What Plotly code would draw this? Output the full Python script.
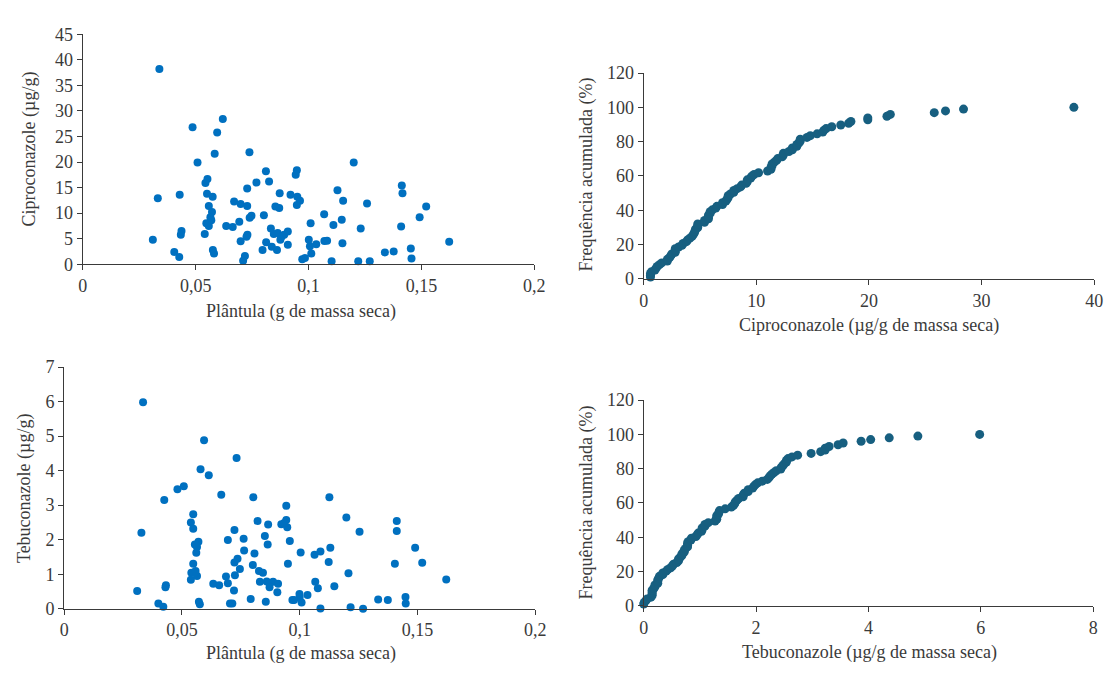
import numpy as np
import plotly.graph_objects as go

# ---- Data ----
plantula_cipro = [0.0339, 0.0332, 0.031, 0.0429, 0.0437, 0.0434, 0.0405, 0.0427, 0.0486, 0.0508,
                  0.062, 0.0595, 0.0584, 0.0738, 0.0552, 0.0543, 0.055, 0.0575, 0.0558, 0.0572,
                  0.0565, 0.0569, 0.0547, 0.0558, 0.054, 0.0576, 0.0581, 0.0635, 0.0664, 0.067,
                  0.0699, 0.0728, 0.0693, 0.0699, 0.0725, 0.0729, 0.0718, 0.071, 0.0728, 0.0739,
                  0.0747, 0.0769, 0.0811, 0.0825, 0.0802, 0.0872, 0.0853, 0.087, 0.0833, 0.0846,
                  0.0863, 0.088, 0.0892, 0.0908, 0.0812, 0.0796, 0.0837, 0.086, 0.0875, 0.0908,
                  0.092, 0.0948, 0.0943, 0.095, 0.0962, 0.0948, 0.1009, 0.1001, 0.1006, 0.1034,
                  0.1012, 0.0972, 0.0984, 0.12, 0.1128, 0.1153, 0.1259, 0.1069, 0.1147, 0.111,
                  0.1231, 0.107, 0.1082, 0.115, 0.1102, 0.122, 0.1271, 0.1338, 0.1377, 0.1413,
                  0.1416, 0.141, 0.1453, 0.1456, 0.1492, 0.1521, 0.1623]
cipro = [38.2, 12.9, 4.8, 13.6, 6.5, 5.75, 2.4, 1.4, 26.8, 19.9,
         28.4, 25.8, 21.6, 21.9, 16.7, 15.9, 13.8, 13.2, 11.4, 10.2,
         9.2, 8.6, 8.0, 7.5, 5.9, 2.8, 2.1, 7.5, 7.3, 12.3,
         11.8, 11.4, 8.3, 4.5, 5.4, 5.75, 1.6, 0.7, 14.8, 9.1,
         9.5, 16.0, 18.2, 16.2, 9.6, 13.9, 11.3, 11.0, 7.0, 5.9,
         6.1, 5.4, 5.75, 6.4, 4.3, 2.8, 3.4, 2.8, 4.8, 3.8,
         13.6, 18.4, 17.5, 13.2, 12.4, 11.6, 8.0, 4.8, 3.5, 3.9,
         2.1, 1.0, 1.2, 19.9, 14.5, 12.4, 11.9, 9.8, 8.7, 7.7,
         7.0, 4.55, 4.6, 4.1, 0.6, 0.6, 0.6, 2.3, 2.5, 15.4,
         13.9, 7.4, 3.1, 1.1, 9.2, 11.3, 4.4]

plantula_tebu = [0.0335, 0.0328, 0.031, 0.04, 0.0421, 0.0425, 0.043, 0.0432, 0.0481, 0.0508,
                 0.0594, 0.0579, 0.0614, 0.0667, 0.0732, 0.0548, 0.0538, 0.0548, 0.057, 0.0555,
                 0.0564, 0.0561, 0.0548, 0.054, 0.0558, 0.0564, 0.0538, 0.0572, 0.0576, 0.0633,
                 0.0658, 0.0687, 0.0695, 0.0721, 0.0704, 0.0714, 0.0723, 0.0695, 0.0762, 0.0764,
                 0.0736, 0.0723, 0.0746, 0.0725, 0.0803, 0.0821, 0.0866, 0.0852, 0.0864, 0.0808,
                 0.0801, 0.0827, 0.0844, 0.0831, 0.086, 0.0887, 0.0908, 0.0872, 0.0905, 0.0792,
                 0.0856, 0.0943, 0.0943, 0.0922, 0.0947, 0.0934, 0.0958, 0.095, 0.1004, 0.1063,
                 0.1066, 0.1077, 0.0999, 0.1, 0.1033, 0.0976, 0.1008, 0.0969, 0.1088, 0.1126,
                 0.1198, 0.1254, 0.1412, 0.1412, 0.1088, 0.113, 0.1123, 0.1207, 0.1147, 0.1216,
                 0.1269, 0.1333, 0.1374, 0.1404, 0.149, 0.152, 0.1449, 0.145, 0.1622]
tebu = [5.98, 2.2, 0.51, 0.15, 0.06, 3.15, 0.62, 0.68, 3.46, 3.55,
        4.88, 4.04, 3.87, 3.3, 4.37, 2.74, 2.5, 2.32, 1.94, 1.86,
        1.79, 1.62, 1.3, 1.04, 1.09, 0.95, 0.84, 0.2, 0.13, 0.72,
        0.68, 0.93, 0.74, 0.53, 0.15, 0.15, 2.28, 1.99, 2.03, 1.69,
        1.45, 1.34, 1.15, 0.97, 3.23, 2.54, 2.44, 2.11, 1.86, 1.6,
        1.27, 1.09, 1.04, 0.78, 0.79, 0.78, 0.72, 0.62, 0.48, 0.28,
        0.2, 2.98, 2.57, 2.45, 2.36, 2.48, 1.96, 1.3, 1.63, 1.56,
        0.78, 0.59, 0.43, 0.34, 0.4, 0.25, 0.18, 0.25, 0.01, 3.23,
        2.64, 2.23, 2.54, 2.25, 1.66, 1.77, 1.35, 1.03, 0.65, 0.04,
        0.0, 0.27, 0.25, 1.3, 1.77, 1.33, 0.34, 0.15, 0.85]

# Cumulative frequency (%) of the measured concentrations
def ecdf(values):
    s = np.sort(np.asarray(values, dtype=float))
    return s, np.arange(1, len(s) + 1) / len(s) * 100.0

cipro_sorted, cipro_cum = ecdf(cipro)
tebu_sorted, tebu_cum = ecdf(tebu)

W, H = 1115, 675
BLUE = "#0070C0"
TEAL = "#175F80"
TXT = "#3a3a3a"
FONT = "Liberation Serif"
TICK_SIZE = 18
TITLE_SIZE = 18

def fx(px):
    return px / W

def fy(py):
    return 1 - py / H

fig = go.Figure()
fig.add_trace(go.Scatter(x=plantula_cipro, y=cipro, mode="markers", xaxis="x", yaxis="y",
                         marker=dict(color=BLUE, size=8), cliponaxis=False, showlegend=False))
fig.add_trace(go.Scatter(x=cipro_sorted, y=cipro_cum, mode="markers", xaxis="x2", yaxis="y2",
                         marker=dict(color=TEAL, size=9), cliponaxis=False, showlegend=False))
fig.add_trace(go.Scatter(x=plantula_tebu, y=tebu, mode="markers", xaxis="x3", yaxis="y3",
                         marker=dict(color=BLUE, size=8), cliponaxis=False, showlegend=False))
fig.add_trace(go.Scatter(x=tebu_sorted, y=tebu_cum, mode="markers", xaxis="x4", yaxis="y4",
                         marker=dict(color=TEAL, size=9), cliponaxis=False, showlegend=False))

def ax(domain, rng, dtick, anchor):
    return dict(domain=domain, range=rng, dtick=dtick, tick0=0, anchor=anchor,
                showgrid=False, zeroline=False, showline=True, linecolor="#3a3a3a", linewidth=1.3,
                ticks="outside", ticklen=5, tickcolor="#3a3a3a", tickwidth=1.3,
                tickfont=dict(family=FONT, size=TICK_SIZE, color=TXT), fixedrange=True)

layout = dict(
    width=W, height=H, margin=dict(l=0, r=0, t=0, b=0),
    paper_bgcolor="white", plot_bgcolor="white", separators=",.",
    showlegend=False,
    xaxis=ax([fx(79), fx(537)], [0, 0.2], 0.05, "y"),
    yaxis=ax([fy(262), fy(25)], [0, 45], 5, "x"),
    xaxis2=ax([fx(648), fx(1105)], [0, 40], 10, "y2"),
    yaxis2=ax([fy(277), fy(65)], [0, 120], 20, "x2"),
    xaxis3=ax([fx(60), fx(538)], [0, 0.2], 0.05, "y3"),
    yaxis3=ax([fy(617), fy(368)], [0, 7], 1, "x3"),
    xaxis4=ax([fx(648), fx(1104)], [0, 8], 2, "y4"),
    yaxis4=ax([fy(614), fy(402)], [0, 120], 20, "x4"),
)

def title(text, px, py, angle=0):
    return dict(text=text, x=fx(px), y=fy(py), xref="paper", yref="paper",
                showarrow=False, textangle=angle, xanchor="center", yanchor="middle",
                font=dict(family=FONT, size=TITLE_SIZE, color=TXT))

layout["annotations"] = [
    title("Plântula (g de massa seca)", 300, 311),
    title("Ciproconazole (µg/g)", 25, 143, -90),
    title("Ciproconazole (µg/g de massa seca)", 877, 325),
    title("Frequência acumulada (%)", 590, 170, -90),
    title("Plântula (g de massa seca)", 300, 663),
    title("Tebuconazole (µg/g)", 20, 493, -90),
    title("Tebuconazole (µg/g de massa seca)", 877, 662),
    title("Frequência acumulada (%)", 590, 508, -90),
]

fig.update_layout(**layout)
fig.write_html("out.html")
